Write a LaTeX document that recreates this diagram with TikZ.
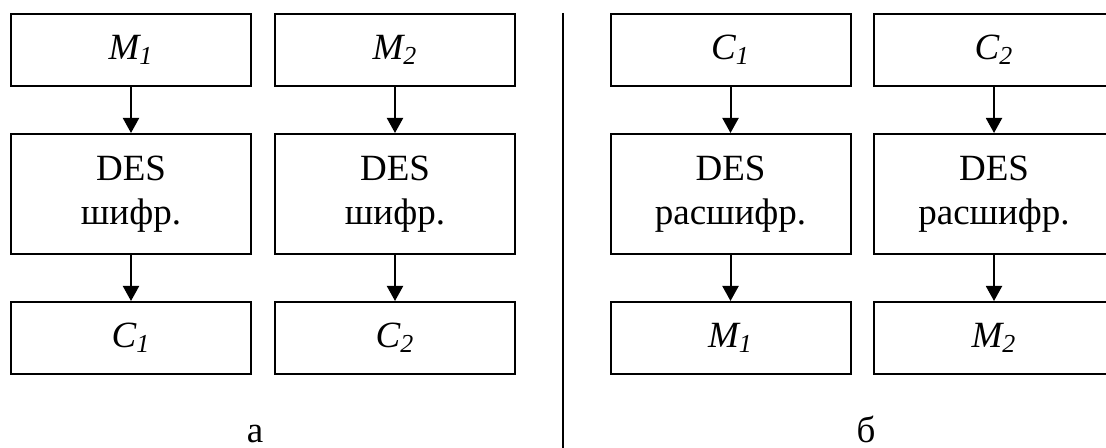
\documentclass[tikz,border=0pt]{standalone}
\usepackage{fontspec}
\setmainfont{Liberation Serif}
\usetikzlibrary{arrows.meta}

\begin{document}
\begin{tikzpicture}[x=0.5pt, y=-0.5pt, line width=1pt]
\tikzset{blk/.style={draw, minimum width=120pt, minimum height=36pt, inner sep=0pt, align=center, font=\fontsize{18.5}{22}\selectfont}}
\tikzset{tallblk/.style={blk, minimum height=60pt}}
\tikzset{arr/.style={-{Triangle[length=7.5pt, width=8pt]}}}
\useasboundingbox (0,0) rectangle (1106,448);

% а: encryption
\node[blk]     (m1)  at (131,50)  {\textit{M\textsubscript{1}}};
\node[tallblk] (e1)  at (131,194) {DES\\шифр.};
\node[blk]     (c1)  at (131,338) {\textit{C\textsubscript{1}}};
\node[blk]     (m2)  at (395,50)  {\textit{M\textsubscript{2}}};
\node[tallblk] (e2)  at (395,194) {DES\\шифр.};
\node[blk]     (c2)  at (395,338) {\textit{C\textsubscript{2}}};

% б: decryption
\node[blk]     (c1b) at (730.5,50)  {\textit{C\textsubscript{1}}};
\node[tallblk] (d1)  at (730.5,194) {DES\\расшифр.};
\node[blk]     (m1b) at (730.5,338) {\textit{M\textsubscript{1}}};
\node[blk]     (c2b) at (994,50)  {\textit{C\textsubscript{2}}};
\node[tallblk] (d2)  at (994,194) {DES\\расшифр.};
\node[blk]     (m2b) at (994,338) {\textit{M\textsubscript{2}}};

\draw[arr] (m1) -- (e1);
\draw[arr] (e1) -- (c1);
\draw[arr] (m2) -- (e2);
\draw[arr] (e2) -- (c2);
\draw[arr] (c1b) -- (d1);
\draw[arr] (d1) -- (m1b);
\draw[arr] (c2b) -- (d2);
\draw[arr] (d2) -- (m2b);

\coordinate (top) at (562.5,13);
\coordinate (bot) at (562.5,448);
\draw (top) -- (bot);

\node[anchor=base, font=\fontsize{18.5}{22}\selectfont] (capa) at (255,442) {а};
\node[anchor=base, font=\fontsize{18.5}{22}\selectfont] (capb) at (866,442) {б};
\end{tikzpicture}
\end{document}
